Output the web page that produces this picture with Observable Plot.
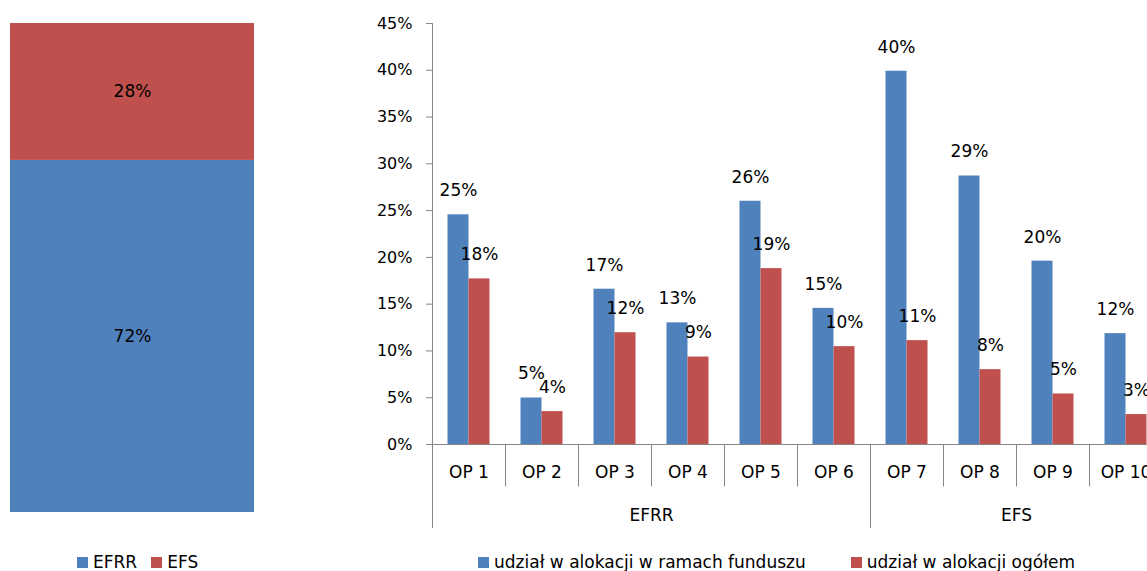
<!DOCTYPE html>
<html>
<head>
<meta charset="utf-8">
<script src="https://cdn.jsdelivr.net/npm/d3@7"></script>
<script src="https://cdn.jsdelivr.net/npm/@observablehq/plot@0.6"></script>
<style>
  html, body { margin: 0; padding: 0; background: #fff; overflow: hidden; }
  #root { position: relative; width: 1147px; height: 571px; overflow: hidden; font-family: "DejaVu Sans", sans-serif; }
  #left, #right { position: absolute; top: 0; }
  #left { left: 0; width: 270px; }
  #right { left: 340px; width: 830px; }
  #root svg { max-width: none !important; }
  .legend { position: absolute; display: flex; align-items: center; font-size: 17px; line-height: 16px; height: 16px; color: #000; white-space: nowrap; }
  .sw { display: inline-block; width: 11px; height: 11px; margin-right: 5px; }
</style>
</head>
<body>
<div id="root">
  <div id="left"></div>
  <div id="right"></div>
</div>
<script>
// ---- data ----
const funds = ["EFRR", "EFS"];
const fundTotals = [0.72, 0.28];

const categories = ["OP 1", "OP 2", "OP 3", "OP 4", "OP 5", "OP 6", "OP 7", "OP 8", "OP 9", "OP 10"];
const shareWithinFund = [0.2455, 0.0497, 0.166, 0.130, 0.260, 0.1455, 0.399, 0.287, 0.196, 0.1185];
const shareOverall = [0.177, 0.0352, 0.1195, 0.0935, 0.188, 0.1046, 0.111, 0.080, 0.054, 0.032];
const groupNames = ["EFRR", "EFS"];
const groupOf = ["EFRR", "EFRR", "EFRR", "EFRR", "EFRR", "EFRR", "EFS", "EFS", "EFS", "EFS"];
const yTicks = [0, 0.05, 0.10, 0.15, 0.20, 0.25, 0.30, 0.35, 0.40, 0.45];
const seriesNames = ["udział w alokacji w ramach funduszu", "udział w alokacji ogółem"];

const BLUE = "#4F81BD", RED = "#C0504D", AXIS = "#868686";
const pct = d3.format(".0%");

// ---- left: 100% stacked bar ----
const leftData = funds.map((f, i) => ({fund: f, value: fundTotals[i]}));
const left = Plot.plot({
  width: 270, height: 530,
  marginLeft: 10, marginRight: 16, marginTop: 23, marginBottom: 18,
  style: {fontFamily: "DejaVu Sans", background: "transparent", maxWidth: "none"},
  x: {domain: ["all"], axis: null, padding: 0},
  y: {domain: [0, 1], axis: null},
  color: {domain: funds, range: [BLUE, RED]},
  marks: [
    Plot.barY(leftData, Plot.stackY({x: () => "all", y: "value", fill: "fund", order: funds})),
    Plot.text(leftData, Plot.stackY({x: () => "all", y: "value", z: "fund", order: funds, text: d => pct(d.value), fontSize: 17, fill: "#000"}))
  ]
});
document.getElementById("left").appendChild(left);

// ---- right: grouped bars ----
const rows = categories.map((c, i) => ({cat: c, fund: shareWithinFund[i], overall: shareOverall[i], group: groupOf[i]}));
const W = 830, ML = 92, MR = 8;
const bw = (W - ML - MR) / categories.length;
const half = bw / 2;
const barW = 21;
const inner = half - barW;

const minorSep = categories.filter((c, i) => i < categories.length - 1 && groupOf[i] === groupOf[i + 1]);
const majorSep = categories.filter((c, i) => i < categories.length - 1 && groupOf[i] !== groupOf[i + 1]);
const groupLabels = groupNames.map(g => {
  const idx = categories.map((c, i) => i).filter(i => groupOf[i] === g);
  const mid = (idx[0] + idx[idx.length - 1]) / 2;
  const k = Math.floor(mid);
  return {name: g, cat: categories[k], off: (mid - k) * bw};
});

const right = Plot.plot({
  width: W, height: 540,
  marginLeft: ML, marginRight: MR, marginTop: 23, marginBottom: 96,
  style: {fontFamily: "DejaVu Sans", background: "transparent", overflow: "visible", maxWidth: "none"},
  x: {domain: categories, padding: 0, axis: null},
  y: {domain: [0, 0.45], axis: null},
  marks: [
    Plot.barY(rows, {x: "cat", y: "fund", fill: BLUE, insetLeft: inner, insetRight: half}),
    Plot.barY(rows, {x: "cat", y: "overall", fill: RED, insetLeft: half, insetRight: inner}),
    Plot.ruleY([0], {stroke: AXIS}),
    Plot.ruleX([categories[0]], {dx: -half, stroke: AXIS, insetBottom: -84}),
    Plot.ruleX(minorSep, {y1: 0, y2: 0, dx: half, stroke: AXIS, insetBottom: -42.5}),
    Plot.ruleX(majorSep, {y1: 0, y2: 0, dx: half, stroke: AXIS, insetBottom: -84}),
    Plot.axisY({ticks: yTicks, tickFormat: pct, tickSize: 6, tickPadding: 14, fontSize: 16, stroke: AXIS, fill: "#000", label: null}),
    Plot.text(rows, {x: "cat", y: "fund", text: d => pct(d.fund), dx: -barW / 2, dy: -24, fontSize: 17, fill: "#000"}),
    Plot.text(rows, {x: "cat", y: "overall", text: d => pct(d.overall), dx: barW / 2, dy: -24, fontSize: 17, fill: "#000"}),
    Plot.text(categories, {x: d => d, y: () => 0, text: d => d, dy: 28.5, fontSize: 17, fill: "#000"}),
    ...groupLabels.map(g => Plot.text([g], {x: "cat", y: () => 0, text: "name", dx: g.off, dy: 71, fontSize: 17, fill: "#000"}))
  ]
});
document.getElementById("right").appendChild(right);

// ---- legends ----
function legend(items, x, y, gaps) {
  const div = document.createElement("div");
  div.className = "legend";
  div.style.left = x + "px";
  div.style.top = y + "px";
  items.forEach((it, i) => {
    const s = document.createElement("span");
    s.className = "sw"; s.style.background = it.color;
    if (i > 0) s.style.marginLeft = gaps + "px";
    const t = document.createElement("span");
    t.textContent = it.label;
    div.appendChild(s); div.appendChild(t);
  });
  document.getElementById("root").appendChild(div);
}
legend(funds.map((f, i) => ({label: f, color: [BLUE, RED][i]})), 77, 554, 14);
legend(seriesNames.map((f, i) => ({label: f, color: [BLUE, RED][i]})), 478, 554, 45);
</script>
</body>
</html>
